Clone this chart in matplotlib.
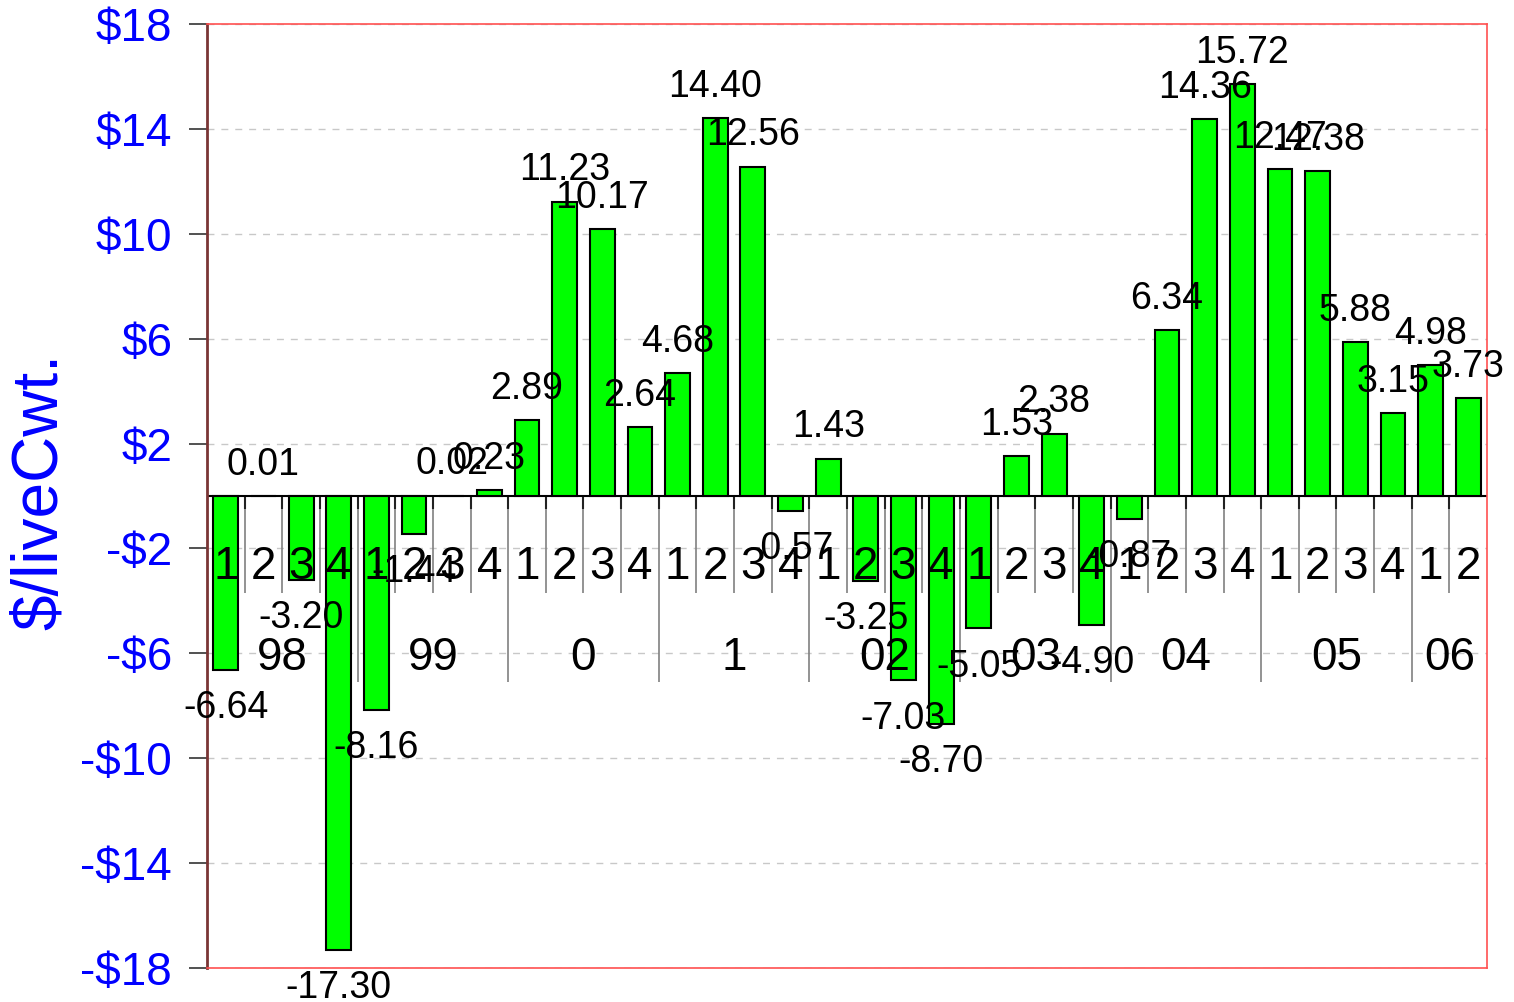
import numpy as np
import matplotlib
matplotlib.use('Agg')
import matplotlib.pyplot as plt

plt.rcParams['font.family'] = ['Liberation Sans', 'DejaVu Sans']

# quarterly values, 1998 Q1 .. 2006 Q2
values = [-6.64, 0.01, -3.20, -17.30,
          -8.16, -1.44, 0.02, 0.23,
          2.89, 11.23, 10.17, 2.64,
          4.68, 14.40, 12.56, -0.57,
          1.43, -3.25, -7.03, -8.70,
          -5.05, 1.53, 2.38, -4.90,
          -0.87, 6.34, 14.36, 15.72,
          12.47, 12.38, 5.88, 3.15,
          4.98, 3.73]
years = ['98', '99', '0', '1', '02', '03', '04', '05', '06']
quarters_per_year = [4, 4, 4, 4, 4, 4, 4, 4, 2]
yticks = [18, 14, 10, 6, 2, -2, -6, -10, -14, -18]

quarter_labels = []
for n in quarters_per_year:
    quarter_labels += [str(q + 1) for q in range(n)]

fig = plt.figure(figsize=(15.14, 10.02), dpi=100)
ax = fig.add_axes([0.1367, 0.0339, 0.8455, 0.9421])

x = np.arange(len(values))
ax.bar(x, values, width=0.66, color='#00ff00', edgecolor='black', linewidth=1.5, zorder=3)

ax.set_xlim(-0.5, len(values) - 0.5)
ax.set_ylim(-18, 18)
ax.set_yticks(yticks)
ax.set_yticklabels([('-$%d' % -v) if v < 0 else ('$%d' % v) for v in yticks],
                   color='#0000ff', fontsize=33)
ax.tick_params(axis='y', length=13, width=1.2, color='#333333', pad=12)
ax.set_xticks([])

# grid
for v in yticks:
    ax.axhline(v, color='#c8c8c8', linestyle=(0, (5, 5)), linewidth=1, zorder=1)
ax.axhline(0, color='black', linewidth=1.5, zorder=2.5)

# separators under the zero line
boundaries = np.cumsum(quarters_per_year)
for b in range(1, len(values)):
    if b in boundaries:
        ax.vlines(b - 0.5, -7.1, 0, color='#808080', linewidth=1.2, zorder=2)
    else:
        ax.vlines(b - 0.5, -3.7, 0, color='#808080', linewidth=1.2, zorder=2)
    ax.vlines(b - 0.5, -0.5, 0, color='#222222', linewidth=1.5, zorder=2)

for i, q in enumerate(quarter_labels):
    ax.text(i, -2.72, q, ha='center', va='center', fontsize=33, zorder=5)

start = 0
for y, n in zip(years, quarters_per_year):
    ax.text(start + (n - 1) / 2, -6.17, y, ha='center', va='center', fontsize=33, zorder=5)
    start += n

# value labels
for i, v in enumerate(values):
    off = 22.5 if v >= 0 else -27.5
    ax.annotate('%.2f' % v, (i, v), xytext=(0, off), textcoords='offset points',
                ha='center', va='center', fontsize=27, zorder=6, annotation_clip=False)

for side in ['top', 'right', 'bottom']:
    ax.spines[side].set_color('#ff5050')
    ax.spines[side].set_linewidth(1.2)
ax.spines['left'].set_color('#7a3535')
ax.spines['left'].set_linewidth(2)

fig.text(40 / 1514, 0.509, '$/liveCwt.', rotation=90, ha='center', va='center',
         color='#0000ff', fontsize=46)

fig.savefig('out.png', dpi=100)
